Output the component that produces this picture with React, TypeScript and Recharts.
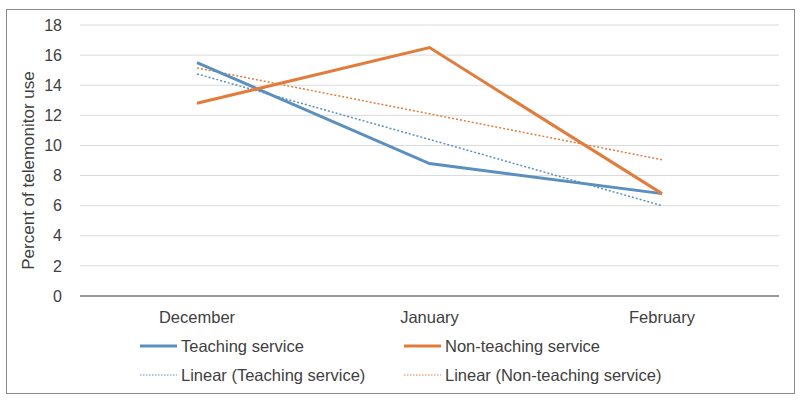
import React from 'react';
import { LineChart, Line, XAxis, YAxis, CartesianGrid } from 'recharts';

// months on the x axis
const months = ['December', 'January', 'February'];
// percent of telemonitor use
const teaching = [15.5, 8.8, 6.8];
const nonTeaching = [12.8, 16.5, 6.8];
// linear trend lines
const teachingTrend = [14.75, 10.4, 6.0];
const nonTeachingTrend = [15.15, 12.1, 9.05];
const yTicks = [0, 2, 4, 6, 8, 10, 12, 14, 16, 18];

const BLUE = '#5B8FBE';
const ORANGE = '#E07D3C';

const data = months.map((m, i) => ({
  month: m,
  teaching: teaching[i],
  nonTeaching: nonTeaching[i],
  teachingTrend: teachingTrend[i],
  nonTeachingTrend: nonTeachingTrend[i],
}));

const legendItems = [
  { label: 'Teaching service', color: BLUE, dotted: false, x: 133, y: 336 },
  { label: 'Non-teaching service', color: ORANGE, dotted: false, x: 397, y: 336 },
  { label: 'Linear (Teaching service)', color: BLUE, dotted: true, x: 133, y: 365 },
  { label: 'Linear (Non-teaching service)', color: ORANGE, dotted: true, x: 397, y: 365 },
];

const font = '"Liberation Sans", Arial, sans-serif';

export default function App() {
  return (
    <div
      style={{
        position: 'absolute', left: 6, top: 9, width: 789, height: 385,
        border: '1.5px solid #8a8a8a', boxSizing: 'border-box', background: '#fff',
        fontFamily: font,
      }}
    >
      <LineChart width={786} height={382} data={data} margin={{ top: 15, right: 14, left: 0, bottom: 66 }}>
        <CartesianGrid vertical={false} stroke="#d9d9d9" />
        <XAxis
          dataKey="month"
          tickLine={false}
          padding={{ left: 117, right: 117 }}
          axisLine={{ stroke: '#7f7f7f', strokeWidth: 1.5 }}
          tick={{ fontSize: 16.5, fill: '#404040', fontFamily: font }}
          tickMargin={9}
          height={30}
        />
        <YAxis
          domain={[0, 18]}
          ticks={yTicks}
          width={73}
          axisLine={false}
          tickLine={false}
          tickMargin={12}
          tick={{ fontSize: 16, fill: '#404040', fontFamily: font }}
          label={{
            content: ({ viewBox }: any) => {
              const cy = viewBox.y + viewBox.height / 2 + 10;
              return (
                <text
                  x={23}
                  y={cy}
                  transform={`rotate(-90, 23, ${cy})`}
                  textAnchor="middle"
                  dominantBaseline="middle"
                  fontSize={17}
                  fill="#404040"
                  fontFamily={font}
                >
                  Percent of telemonitor  use
                </text>
              );
            },
          }}
        />
        <Line dataKey="teachingTrend" stroke={BLUE} strokeWidth={1.5} strokeDasharray="2 2" dot={false} isAnimationActive={false} />
        <Line dataKey="nonTeachingTrend" stroke={ORANGE} strokeWidth={1.5} strokeDasharray="2 2" dot={false} isAnimationActive={false} />
        <Line dataKey="teaching" stroke={BLUE} strokeWidth={3} dot={false} isAnimationActive={false} />
        <Line dataKey="nonTeaching" stroke={ORANGE} strokeWidth={3} dot={false} isAnimationActive={false} />
      </LineChart>
      {legendItems.map((it) => (
        <div
          key={it.label}
          style={{
            position: 'absolute', left: it.x, top: it.y - 11, height: 22,
            display: 'flex', alignItems: 'center', fontSize: 16.5, color: '#404040',
          }}
        >
          <svg width={38} height={6} style={{ marginRight: 3 }}>
            <line
              x1={0} y1={3} x2={37} y2={3}
              stroke={it.color}
              strokeWidth={it.dotted ? 1 : 3}
              strokeDasharray={it.dotted ? '1.5 1.5' : undefined}
            />
          </svg>
          <span>{it.label}</span>
        </div>
      ))}
    </div>
  );
}
